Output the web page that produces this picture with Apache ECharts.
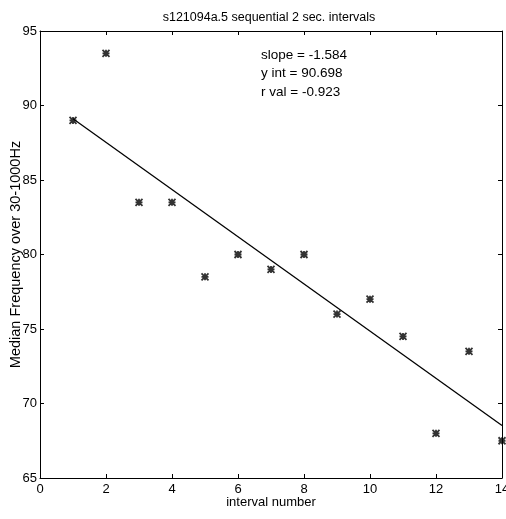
<!DOCTYPE html>
<html>
<head>
<meta charset="utf-8">
<script src="https://cdn.jsdelivr.net/npm/echarts@6/dist/echarts.min.js"></script>
<style>html,body{margin:0;padding:0;background:#fff}#c{width:506px;height:519px}</style>
</head>
<body>
<div id="c"></div>
<script>
const intervals = [1,2,3,4,5,6,7,8,9,10,11,12,13,14];
const medianFreq = [89,93.5,83.5,83.5,78.5,80,79,80,76,77,74.5,68,73.5,67.5];
const fitX = [1,14];
const fitY = [89.114,68.522];
const annotations = ['slope = -1.584','y int = 90.698','r val = -0.923'];
const xTicks = [0,2,4,6,8,10,12,14];
const yTicks = [65,70,75,80,85,90,95];

const chart = echarts.init(document.getElementById('c'));
const font = 'Liberation Sans, Arial, sans-serif';
const star = 'path://M0,0L10,10M10,0L0,10M5,0L5,10M0,5L10,5';
const axisCommon = {
  axisLine:{show:true,onZero:false,lineStyle:{color:'#000',width:1}},
  axisTick:{show:true,inside:true,length:4,lineStyle:{color:'#000'}},
  splitLine:{show:false}
};
chart.setOption({
  animation:false,
  backgroundColor:'#fff',
  title:{text:'s121094a.5 sequential 2 sec. intervals',left:264,top:6,textAlign:'center',
    textStyle:{fontFamily:font,fontSize:12.5,fontWeight:'normal',color:'#000'}},
  grid:{left:40,right:4,top:31,bottom:41,outerBoundsMode:'none',containLabel:false},
  xAxis:[
    Object.assign({type:'value',min:xTicks[0],max:xTicks[xTicks.length-1],interval:2,position:'bottom',
      name:'interval number',nameLocation:'middle',nameGap:18,nameMoveOverlap:false,
      nameTextStyle:{fontFamily:font,fontSize:13,color:'#000'},
      axisLabel:{fontFamily:font,fontSize:13,color:'#000',margin:5}},axisCommon),
    Object.assign({type:'value',min:xTicks[0],max:xTicks[xTicks.length-1],interval:2,position:'top',
      axisLabel:{show:false}},axisCommon)
  ],
  yAxis:[
    Object.assign({type:'value',min:yTicks[0],max:yTicks[yTicks.length-1],interval:5,position:'left',
      name:'Median Frequency over 30-1000Hz',nameLocation:'middle',nameGap:17,nameMoveOverlap:false,
      nameTextStyle:{fontFamily:font,fontSize:14.5,color:'#000'},
      axisLabel:{fontFamily:font,fontSize:13,color:'#000',margin:3}},axisCommon),
    Object.assign({type:'value',min:yTicks[0],max:yTicks[yTicks.length-1],interval:5,position:'right',
      axisLabel:{show:false}},axisCommon)
  ],
  series:[
    {type:'line',data:fitX.map((x,i)=>[x,fitY[i]]),symbol:'none',
      lineStyle:{color:'#000',width:1.3},silent:true},
    {type:'scatter',data:intervals.map((x,i)=>[x,medianFreq[i]]),symbol:star,symbolSize:7,
      itemStyle:{color:'transparent',borderColor:'#000',borderWidth:1.8}}
  ],
  graphic:annotations.map((t,i)=>({type:'text',left:261,top:48+i*18.5,
    style:{text:t,fontFamily:font,fontSize:13.5,fill:'#000'}}))
});
</script>
</body>
</html>
